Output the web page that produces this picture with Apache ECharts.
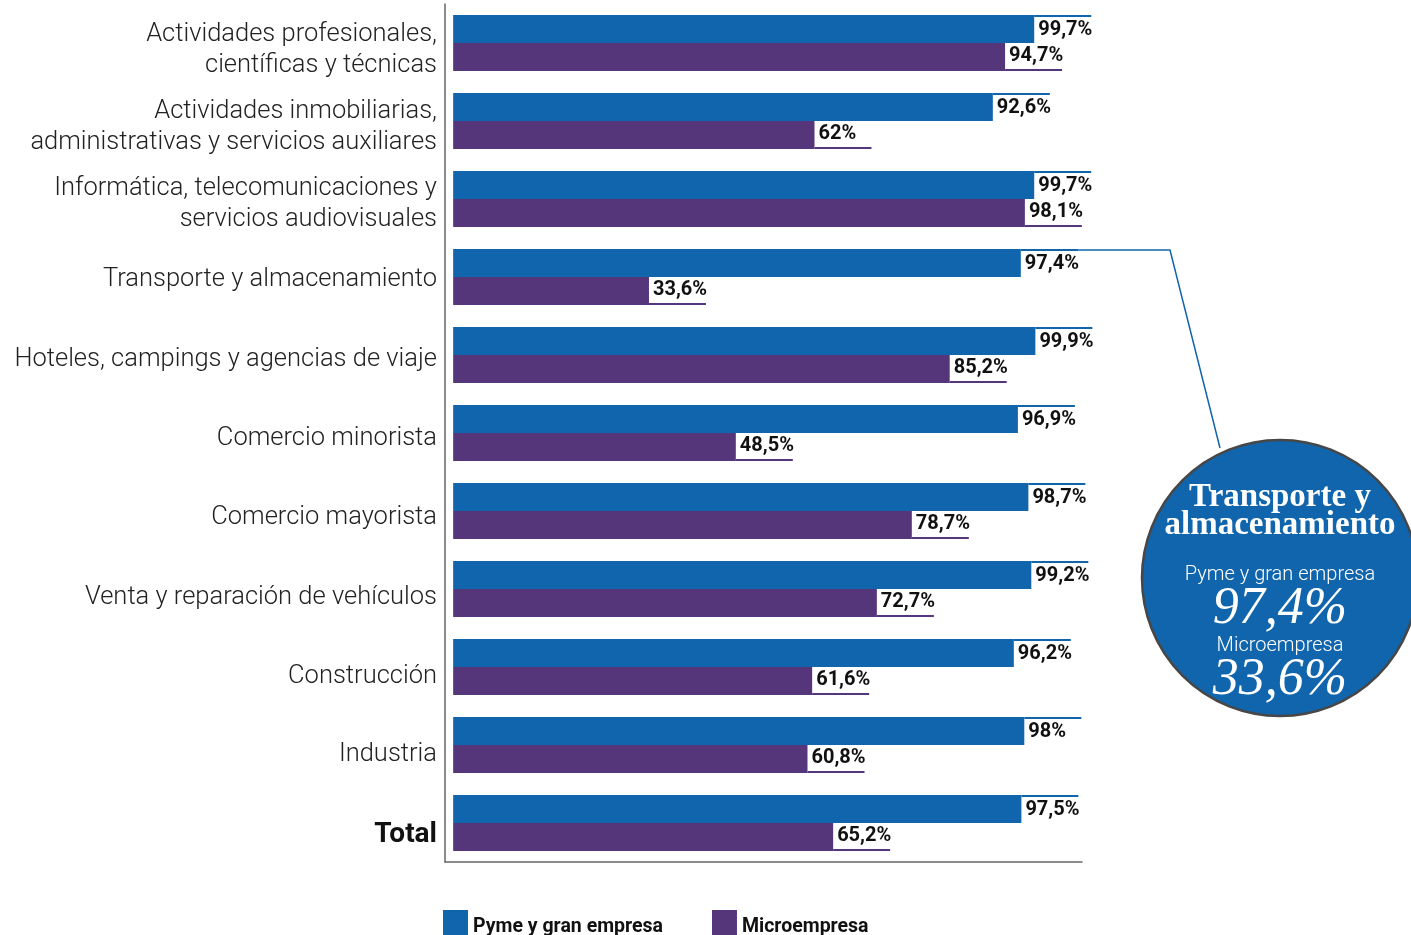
<!DOCTYPE html>
<html>
<head>
<meta charset="utf-8">
<script src="https://cdn.jsdelivr.net/npm/echarts@6/dist/echarts.min.js"></script>
<style>
  html, body { margin: 0; padding: 0; background: #ffffff; }
  #chart { width: 1411px; height: 935px; }
</style>
</head>
<body>
<div id="chart"></div>
<script>
// Sectors, top to bottom
const categories = [
  'Actividades profesionales,\ncientíficas y técnicas',
  'Actividades inmobiliarias,\nadministrativas y servicios auxiliares',
  'Informática, telecomunicaciones y\nservicios audiovisuales',
  'Transporte y almacenamiento',
  'Hoteles, campings y agencias de viaje',
  'Comercio minorista',
  'Comercio mayorista',
  'Venta y reparación de vehículos',
  'Construcción',
  'Industria',
  'Total'
];
// Share of companies (%) by size
const pymeValues  = [99.7, 92.6, 99.7, 97.4, 99.9, 96.9, 98.7, 99.2, 96.2, 98, 97.5];
const microValues = [94.7, 62, 98.1, 33.6, 85.2, 48.5, 78.7, 72.7, 61.6, 60.8, 65.2];
const seriesNames = ['Pyme y gran empresa', 'Microempresa'];
const highlightIndex = 3;

// Styling
const BLUE = '#1065ac';
const PURPLE = '#56367a';
const SANS = 'Roboto, "Open Sans", sans-serif';
const SERIF = '"Liberation Serif", "DejaVu Serif", serif';
// spacer above each sector name (pushes the text slightly down)
const labelGap = [14, 12, 10, 6, 10, 12, 14, 18, 20, 20, 24];

const fmt = v => String(v).replace('.', ',') + '%';

function valueRich(color) {
  return {
    s: { width: 57, height: 2, lineHeight: 2, fontSize: 1, backgroundColor: color, color: color },
    v: { width: 53, height: 26, lineHeight: 26, padding: [0, 0, 0, 4], fontSize: 20,
         fontWeight: 'bold', color: '#111', fontFamily: SANS }
  };
}

// rich styles for the sector names
const catRich = {
  t: { fontSize: 25.5, lineHeight: 31, color: '#222', fontWeight: 300, fontFamily: SANS, align: 'right' },
  b: { fontSize: 28, lineHeight: 31, color: '#111', fontWeight: 'bold', fontFamily: SANS, align: 'right' }
};
labelGap.forEach((g, i) => {
  catRich['g' + i] = { fontSize: 1, height: g, lineHeight: g, align: 'right' };
});

const chart = echarts.init(document.getElementById('chart'), null, { renderer: 'canvas' });

chart.setOption({
  animation: false,
  backgroundColor: '#ffffff',
  grid: { left: 445, top: 4, width: 637, height: 858, containLabel: false },
  legend: {
    left: 443, top: 910, padding: 0,
    itemWidth: 25, itemHeight: 25, itemGap: 49,
    icon: 'rect',
    formatter: name => '{a|' + name + '}',
    textStyle: {
      rich: { a: { fontSize: 19.5, fontWeight: 'bold', color: '#111', fontFamily: SANS, padding: [10, 0, 0, 0] } }
    },
    data: seriesNames
  },
  xAxis: {
    type: 'value', min: -1.4, max: 107.9,
    axisLine: { show: true, lineStyle: { color: '#666', width: 1.5 } },
    axisTick: { show: false }, axisLabel: { show: false }, splitLine: { show: false }
  },
  yAxis: {
    type: 'category', inverse: true,
    data: categories,
    axisLine: { show: true, onZero: false, lineStyle: { color: '#666', width: 1.5 } },
    axisTick: { show: false },
    axisLabel: {
      margin: 8,
      formatter: (value, index) => {
        const style = index === categories.length - 1 ? 'b' : 't';
        return '{g' + index + '| }\n' + value.split('\n').map(l => '{' + style + '|' + l + '}').join('\n');
      },
      rich: catRich
    }
  },
  series: [
    {
      name: seriesNames[0], type: 'bar', data: pymeValues,
      barWidth: 28, barGap: '0%',
      itemStyle: { color: BLUE },
      label: { show: true, position: 'right', distance: 0,
               formatter: p => '{s| }\n{v|' + fmt(p.value) + '}', rich: valueRich(BLUE) }
    },
    {
      name: seriesNames[1], type: 'bar', data: microValues,
      barWidth: 28, barGap: '0%',
      itemStyle: { color: PURPLE },
      label: { show: true, position: 'right', distance: 0,
               formatter: p => '{v|' + fmt(p.value) + '}\n{s| }', rich: valueRich(PURPLE) }
    }
  ]
});

// Callout for the highlighted sector, leaving from the end of its value tag
const layout = chart.getModel().getSeriesByIndex(0).getData().getItemLayout(highlightIndex);
const lineX = layout.x + layout.width + 57;
const lineY = Math.min(layout.y, layout.y + layout.height) + 1;
const cx = 1280, cy = 578, r = 138;

const line = (text, y, font) => ({
  type: 'text', z: 11, x: cx, y: y,
  style: { text: text, fill: '#fff', font: font, align: 'center', verticalAlign: 'middle' }
});

chart.setOption({
  graphic: [
    { type: 'polyline', z: 5,
      shape: { points: [[lineX - 2, lineY], [1170, lineY], [1220, cy - r + 8]] },
      style: { stroke: BLUE, lineWidth: 1.5, fill: null } },
    { type: 'circle', z: 10, shape: { cx: cx, cy: cy, r: r },
      style: { fill: BLUE, stroke: '#474747', lineWidth: 2.5 } },
    line('Transporte y', 497, 'bold 33px ' + SERIF),
    line('almacenamiento', 525, 'bold 33px ' + SERIF),
    line(seriesNames[0], 575, '300 20px ' + SANS),
    line(fmt(pymeValues[highlightIndex]), 609, 'italic 52px ' + SERIF),
    line(seriesNames[1], 646, '300 20px ' + SANS),
    line(fmt(microValues[highlightIndex]), 680, 'italic 52px ' + SERIF)
  ]
});
</script>
</body>
</html>
